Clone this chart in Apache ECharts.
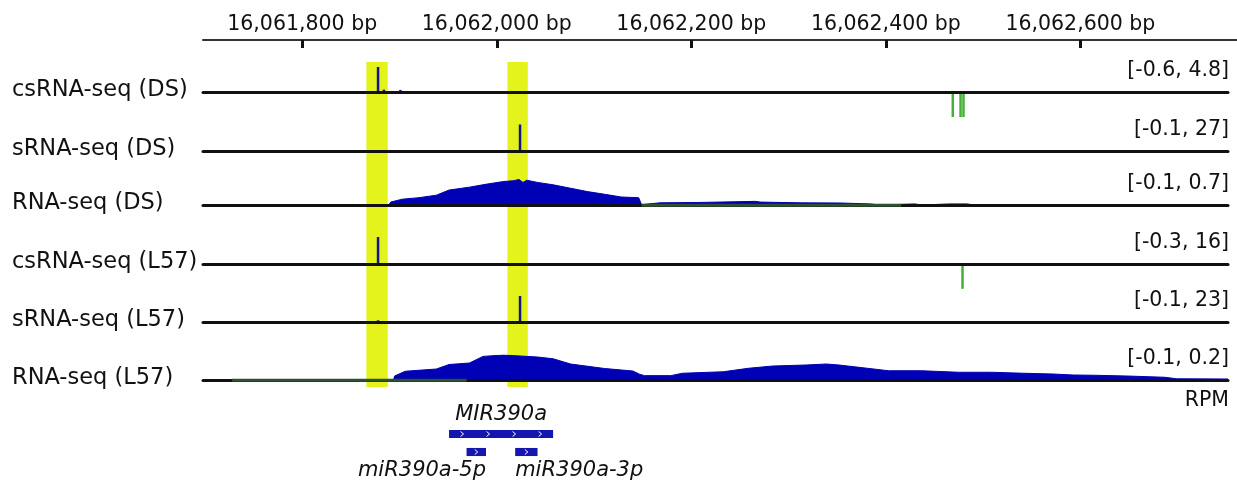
<!DOCTYPE html>
<html><head><meta charset="utf-8">
<style>html,body{margin:0;padding:0;background:#fff}#chart{width:1237px;height:483px}</style>
<script src="https://cdn.jsdelivr.net/npm/echarts@6.0.0/dist/echarts.min.js"></script>
</head><body><div id="chart"></div>
<script>
// ---------------- data ----------------
const tickValues = [16061800, 16062000, 16062200, 16062400, 16062600];
const tickLabels = ['16,061,800 bp', '16,062,000 bp', '16,062,200 bp', '16,062,400 bp', '16,062,600 bp'];
const trackNames = ['csRNA-seq (DS)', 'sRNA-seq (DS)', 'RNA-seq (DS)', 'csRNA-seq (L57)', 'sRNA-seq (L57)', 'RNA-seq (L57)'];
const rangeLabels = ['[-0.6, 4.8]', '[-0.1, 27]', '[-0.1, 0.7]', '[-0.3, 16]', '[-0.1, 23]', '[-0.1, 0.2]'];
const rangeMax = [4.8, 27, 0.7, 16, 23, 0.2];
const unitLabel = 'RPM';
const highlightRegions = [[16061866, 16061888], [16062011, 16062032]];

const csRNA_DS_plus = [[16061878, 4.8], [16061884, 0.45], [16061901, 0.4]];
const csRNA_DS_minus = [[16062469, -4.8], [16062477, -4.8], [16062480, -4.8]];
const sRNA_DS_plus = [[16062024, 27]];
const sRNA_DS_minus = [];
const RNA_DS_plus = [[16061889, 0], [16061891, 0.08], [16061903, 0.16], [16061920, 0.2], [16061938, 0.27],
  [16061951, 0.41], [16061972, 0.49], [16061989, 0.57], [16062007, 0.645], [16062017, 0.665], [16062023, 0.7],
  [16062027, 0.62], [16062031, 0.68], [16062042, 0.62], [16062058, 0.555], [16062076, 0.46], [16062093, 0.37],
  [16062111, 0.295], [16062128, 0.22], [16062146, 0.2], [16062149, 0.01], [16062168, 0.06], [16062209, 0.07],
  [16062266, 0.1], [16062271, 0.08], [16062312, 0.06], [16062353, 0.055], [16062384, 0.03], [16062394, 0],
  [16062430, 0.03], [16062437, 0], [16062466, 0.03], [16062484, 0.03], [16062490, 0]];
const RNA_DS_minus = [[16062149, -0.005], [16062416, -0.005]];
const csRNA_L57_plus = [[16061878, 16]];
const csRNA_L57_minus = [[16062479, -14.7]];
const sRNA_L57_plus = [[16061878, 1.5], [16062024, 23]];
const sRNA_L57_minus = [];
const RNA_L57_plus = [[16061894, 0], [16061895, 0.032], [16061906, 0.07], [16061938, 0.088], [16061951, 0.124],
  [16061972, 0.136], [16061986, 0.189], [16062007, 0.2], [16062024, 0.192], [16062042, 0.184], [16062058, 0.17],
  [16062076, 0.128], [16062111, 0.092], [16062140, 0.072], [16062147, 0.046], [16062152, 0.035], [16062179, 0.035],
  [16062191, 0.054], [16062233, 0.066], [16062259, 0.094], [16062284, 0.112], [16062318, 0.12], [16062339, 0.128],
  [16062352, 0.12], [16062381, 0.094], [16062403, 0.074], [16062437, 0.074], [16062475, 0.062], [16062509, 0.062],
  [16062542, 0.054], [16062572, 0.048], [16062593, 0.04], [16062614, 0.038], [16062648, 0.032], [16062687, 0.022],
  [16062699, 0.01], [16062752, 0.008]];
const RNA_L57_minus = [[16061728, -0.001], [16061969, -0.001]];

const geneNames = ['MIR390a', 'miR390a-5p', 'miR390a-3p'];
const geneStarts = [16061951, 16061969, 16062019];
const geneEnds = [16062058, 16061989, 16062042];
const geneRows = [0, 1, 1];

// ---------------- layout / style ----------------
const FONT = '"DejaVu Sans", sans-serif';
const X_MIN = 16061698, X_MAX = 16062752, X_MAX_RULER = 16062761;
const LEFT = 203, TRACK_W = 1025, RULER_W = 1034;
const baselines = [92, 151, 205, 264, 322, 380];
const upPx = [25, 26.5, 25.5, 27, 26, 25];
const downPx = 30;
const trackKinds = ['spike', 'spike', 'coverage', 'spike', 'spike', 'coverage'];
const trackPlus = [csRNA_DS_plus, sRNA_DS_plus, RNA_DS_plus, csRNA_L57_plus, sRNA_L57_plus, RNA_L57_plus];
const trackMinus = [csRNA_DS_minus, sRNA_DS_minus, RNA_DS_minus, csRNA_L57_minus, sRNA_L57_minus, RNA_L57_minus];
const geneLabelAnchor = ['above', 'belowRight', 'belowLeft'];

const BLUE = '#0000b4', SPIKE = '#14148c', GREEN = '#45b035', DKGREEN = '#2e5230', YELLOW = '#e4f31c';

const grids = [], xAxes = [], yAxes = [], series = [], graphics = [];

// ruler
grids.push({left: LEFT, top: 40, width: RULER_W, height: 20});
xAxes.push({gridIndex: 0, type: 'value', position: 'top', min: X_MIN, max: X_MAX_RULER,
  axisLine: {show: true, onZero: false, lineStyle: {color: '#333', width: 2}},
  axisTick: {show: true, inside: true, length: 8, lineStyle: {color: '#111', width: 3}, customValues: tickValues},
  axisLabel: {show: true, customValues: tickValues, formatter: v => tickLabels[tickValues.indexOf(v)],
    margin: 5, color: '#111', fontSize: 20.5, fontFamily: FONT},
  splitLine: {show: false}});
yAxes.push({gridIndex: 0, type: 'value', show: false, min: 0, max: 1});

// tracks
for (let i = 0; i < 6; i++) {
  const g = grids.length;
  grids.push({left: LEFT, width: TRACK_W, top: baselines[i] - upPx[i], height: upPx[i] + downPx});
  xAxes.push({gridIndex: g, type: 'value', min: X_MIN, max: X_MAX, z: 3,
    axisLine: {show: true, onZero: true, lineStyle: {color: '#111', width: 3}},
    axisTick: {show: false}, axisLabel: {show: false}, splitLine: {show: false}});
  yAxes.push({gridIndex: g, type: 'value', show: false, min: -rangeMax[i] * downPx / upPx[i], max: rangeMax[i],
    splitLine: {show: false}});
  if (trackKinds[i] === 'spike') {
    series.push({type: 'bar', xAxisIndex: g, yAxisIndex: g, data: trackPlus[i], barWidth: 2.5, z: 2,
      itemStyle: {color: SPIKE}, silent: true});
    if (trackMinus[i].length) series.push({type: 'bar', xAxisIndex: g, yAxisIndex: g, data: trackMinus[i],
      barWidth: 2.5, barGap: '-100%', z: 2, itemStyle: {color: GREEN}, silent: true});
  } else {
    series.push({type: 'line', xAxisIndex: g, yAxisIndex: g, data: trackPlus[i], symbol: 'none', z: 2,
      lineStyle: {color: BLUE, width: 1}, areaStyle: {color: BLUE, opacity: 1}, silent: true});
    series.push({type: 'line', xAxisIndex: g, yAxisIndex: g, data: trackMinus[i], symbol: 'none', z: 4,
      lineStyle: {color: DKGREEN, width: 3}, silent: true});
  }
  graphics.push({type: 'text', left: 12, top: baselines[i] - 13,
    style: {text: trackNames[i], font: '22.5px ' + FONT, fill: '#111'}});
  graphics.push({type: 'text', right: 1237 - 1229, top: baselines[i] - 32,
    style: {text: rangeLabels[i], font: '20.5px ' + FONT, fill: '#111'}});
}
graphics.push({type: 'text', right: 1237 - 1229, top: 390, style: {text: unitLabel, font: '20.5px ' + FONT, fill: '#111'}});

// highlight bands
const hg = grids.length;
grids.push({left: LEFT, width: TRACK_W, top: 62, height: 325});
xAxes.push({gridIndex: hg, type: 'value', min: X_MIN, max: X_MAX, show: false});
yAxes.push({gridIndex: hg, type: 'value', min: 0, max: 1, show: false});
series.push({type: 'custom', xAxisIndex: hg, yAxisIndex: hg, z: 1, silent: true,
  data: highlightRegions,
  encode: {x: [0, 1]},
  renderItem: (params, api) => {
    const a = api.coord([api.value(0), 1]);
    const b = api.coord([api.value(1), 0]);
    return {type: 'rect', shape: {x: a[0], y: a[1], width: b[0] - a[0], height: b[1] - a[1]},
      style: {fill: YELLOW}};
  }});

// gene annotation
const gg = grids.length;
grids.push({left: LEFT, width: TRACK_W, top: 425, height: 36});
xAxes.push({gridIndex: gg, type: 'value', min: X_MIN, max: X_MAX, show: false});
yAxes.push({gridIndex: gg, type: 'category', data: ['gene', 'mature'], inverse: true, show: false});
series.push({type: 'custom', xAxisIndex: gg, yAxisIndex: gg, z: 2, silent: true,
  data: geneNames.map((n, k) => [geneStarts[k], geneEnds[k], geneRows[k], k]),
  encode: {x: [0, 1], y: 2},
  renderItem: (params, api) => {
    const k = api.value(3);
    const p0 = api.coord([api.value(0), api.value(2)]);
    const p1 = api.coord([api.value(1), api.value(2)]);
    const h = api.size([0, 1])[1] * 0.45;
    const w = p1[0] - p0[0];
    const kids = [{type: 'rect', shape: {x: p0[0], y: p0[1] - h / 2, width: w, height: h}, style: {fill: '#1515b0'}}];
    const n = Math.max(1, Math.round(w / 25));
    for (let j = 0; j < n; j++) {
      const cx = p0[0] + (j + 0.5) * w / n;
      kids.push({type: 'polyline', shape: {points: [[cx - 1.5, p0[1] - 2.5], [cx + 1.5, p0[1]], [cx - 1.5, p0[1] + 2.5]]},
        style: {stroke: '#fff', lineWidth: 1, fill: null}});
    }
    const anchor = geneLabelAnchor[k];
    let tx, ty, al;
    if (anchor === 'above') { tx = (p0[0] + p1[0]) / 2; ty = p0[1] - 19; al = 'center'; }
    else if (anchor === 'belowRight') { tx = p1[0]; ty = p0[1] + 19; al = 'right'; }
    else { tx = p0[0]; ty = p0[1] + 19; al = 'left'; }
    kids.push({type: 'text', style: {text: geneNames[k], x: tx, y: ty, align: al, verticalAlign: 'middle',
      font: 'italic 21px ' + FONT, fill: '#111'}});
    return {type: 'group', children: kids};
  }});

const chart = echarts.init(document.getElementById('chart'), null, {renderer: 'canvas'});
chart.setOption({
  backgroundColor: '#fff', animation: false,
  grid: grids, xAxis: xAxes, yAxis: yAxes, series: series, graphic: graphics
});
</script></body></html>
